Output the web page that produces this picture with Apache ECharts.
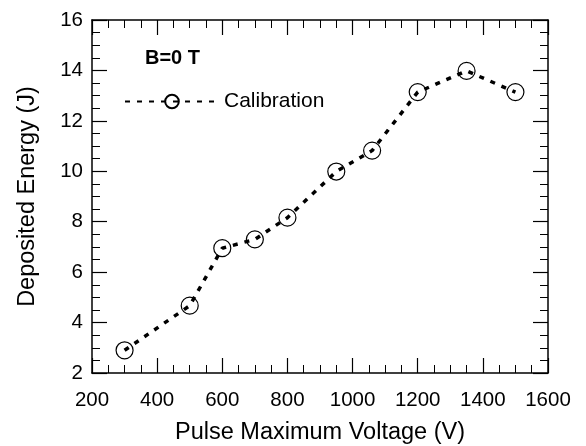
<!DOCTYPE html>
<html>
<head>
<meta charset="utf-8">
<script src="https://cdn.jsdelivr.net/npm/echarts@6/dist/echarts.min.js"></script>
<style>html,body{margin:0;padding:0;background:#fff;}#c{width:586px;height:446px;}</style>
</head>
<body>
<div id="c"></div>
<script>
var voltage = [300, 500, 600, 700, 800, 950, 1060, 1200, 1350, 1500];
var energy = [2.9, 4.67, 6.95, 7.3, 8.16, 9.99, 10.82, 13.14, 13.98, 13.14];
var seriesName = 'Calibration';
var annotation = 'B=0 T';
var xTitle = 'Pulse Maximum Voltage (V)';
var yTitle = 'Deposited Energy (J)';

var FONT = '"Liberation Sans", Arial, sans-serif';
var chart = echarts.init(document.getElementById('c'), null, {renderer: 'canvas'});
var data = voltage.map(function (v, i) { return [v, energy[i]]; });

function axisCommon(extra) {
  var base = {
    type: 'value',
    axisLine: {show: true, onZero: false, lineStyle: {color: '#000', width: 1.5}},
    axisTick: {show: true, inside: true, length: 15, lineStyle: {color: '#000', width: 1.2}},
    minorTick: {show: true, splitNumber: 4, length: 8, lineStyle: {color: '#000', width: 1}},
    splitLine: {show: false},
    minorSplitLine: {show: false}
  };
  for (var k in extra) base[k] = extra[k];
  return base;
}
function plain(v) { return String(v); }

chart.setOption({
  animation: false,
  backgroundColor: '#fff',
  title: {
    text: annotation,
    left: 140, top: 43,
    textStyle: {fontFamily: FONT, fontSize: 20, fontWeight: 'bold', color: '#000'}
  },
  legend: {
    left: 119, top: 86,
    itemWidth: 94, itemHeight: 17,
    itemGap: 0,
    textStyle: {fontFamily: FONT, fontSize: 21, color: '#000', padding: [0, 0, 0, 0]},
    data: [seriesName]
  },
  grid: {left: 92, right: 38, top: 20, bottom: 73, containLabel: false, outerBoundsMode: 'none'},
  xAxis: [
    axisCommon({
      min: 200, max: 1600, interval: 200, position: 'bottom',
      name: xTitle, nameLocation: 'middle', nameGap: 48,
      nameTextStyle: {fontFamily: FONT, fontSize: 23.5, color: '#000'},
      axisLabel: {fontFamily: FONT, fontSize: 20.5, color: '#000', margin: 17, formatter: plain}
    }),
    axisCommon({
      min: 200, max: 1600, interval: 200, position: 'top',
      axisLabel: {show: false}
    })
  ],
  yAxis: [
    axisCommon({
      min: 2, max: 16, interval: 2, position: 'left',
      name: yTitle, nameLocation: 'middle', nameGap: 52,
      nameTextStyle: {fontFamily: FONT, fontSize: 23.5, color: '#000'},
      axisLabel: {fontFamily: FONT, fontSize: 20.5, color: '#000', margin: 9, formatter: plain}
    }),
    axisCommon({
      min: 2, max: 16, interval: 2, position: 'right',
      axisLabel: {show: false}
    })
  ],
  series: [{
    name: seriesName,
    type: 'line',
    xAxisIndex: 0, yAxisIndex: 0,
    data: data,
    symbol: 'circle',
    symbolSize: 17,
    itemStyle: {color: 'rgba(255,255,255,0)', borderColor: '#000', borderWidth: 1.2},
    lineStyle: {color: '#000', width: 3.5, type: [5, 7]},
    emphasis: {disabled: true}
  }]
});
</script>
</body>
</html>
